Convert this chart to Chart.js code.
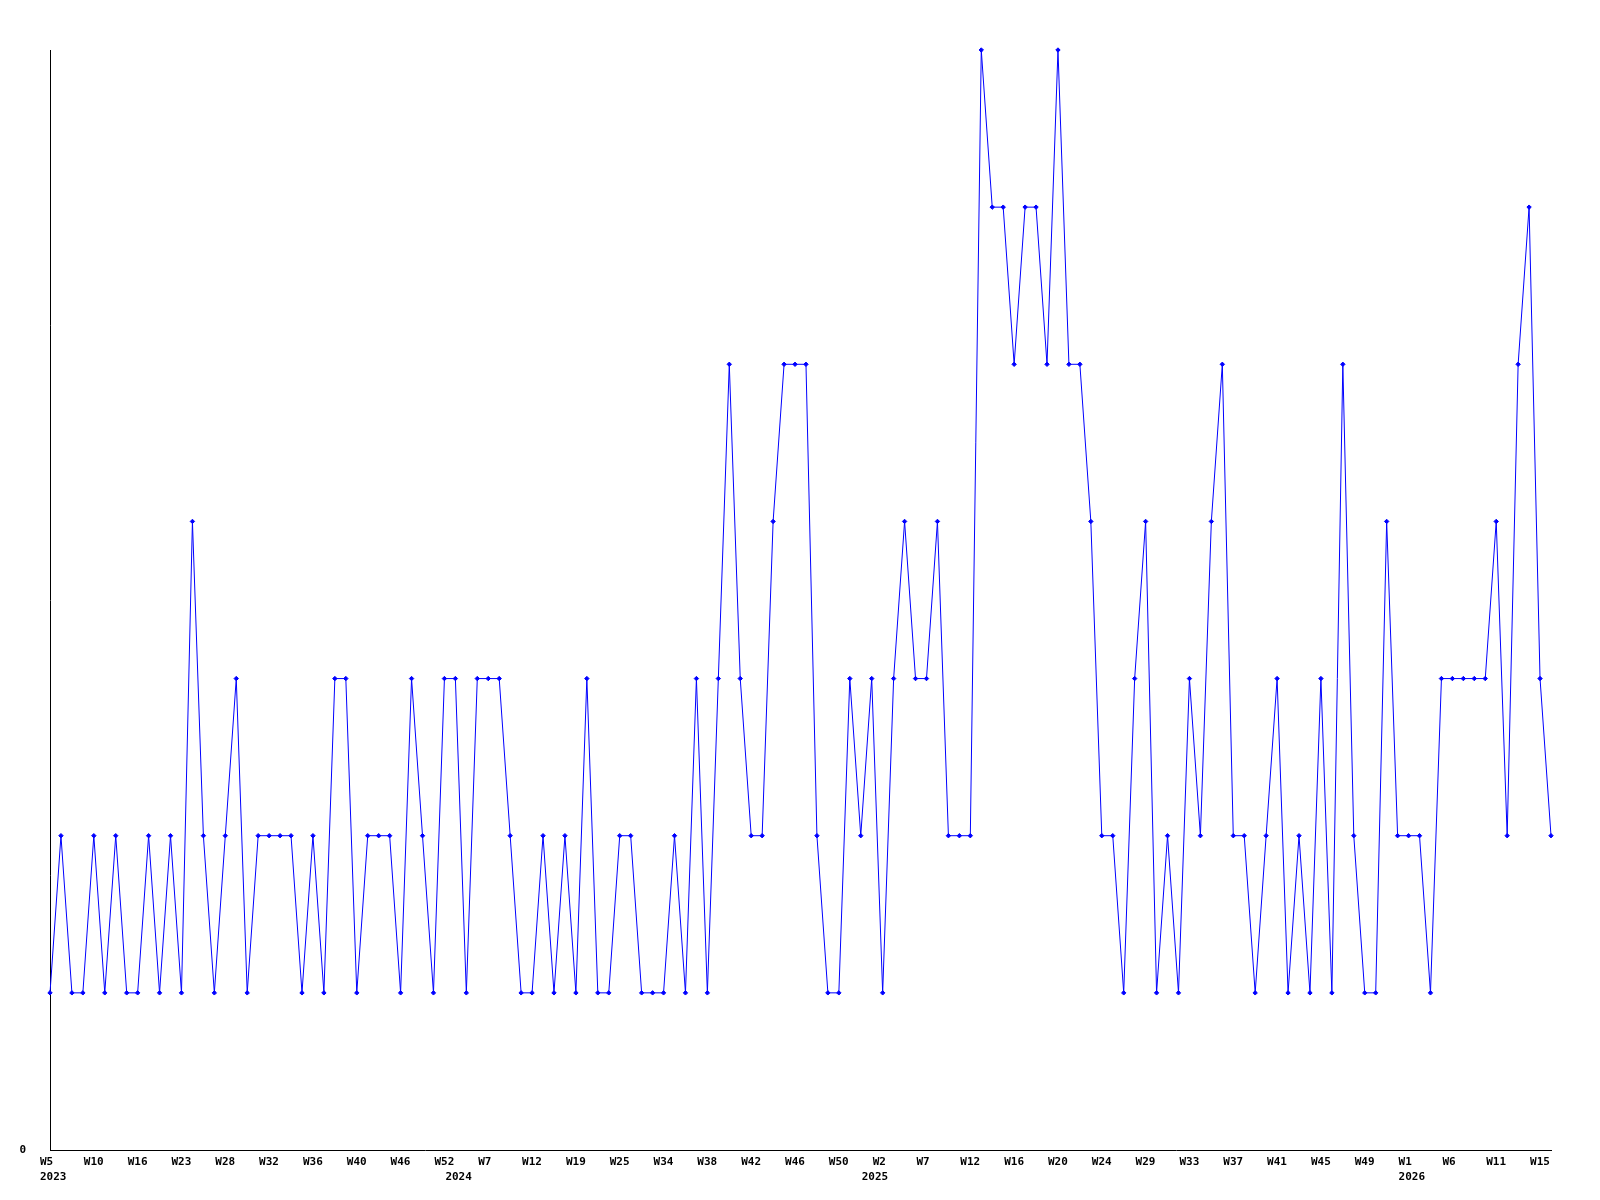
<!DOCTYPE html>
<html>
<head>
<meta charset="utf-8">
<title>Weekly count</title>
<script src="https://cdn.jsdelivr.net/npm/chart.js@4.4.1/dist/chart.umd.min.js"></script>
<style>
  body { margin: 0; background: #fff; }
</style>
</head>
<body>
<canvas id="weeklyChart" width="1600" height="1200"></canvas>
<script>
// weeks that have a data point, per year
const weeks2023 = ['W5','W6','W8','W9','W10','W11','W13','W14','W16','W18','W20','W21','W23','W24','W25','W27',
  'W28','W29','W30','W31','W32','W33','W34','W35','W36','W37','W38','W39','W40','W41','W43','W44',
  'W46','W48','W49','W51','W52'];
const weeks2024 = ['W1','W3','W5','W7','W8','W9','W11','W12','W14','W16','W17','W19','W20','W22','W23','W25',
  'W27','W30','W32','W34','W35','W36','W37','W38','W39','W40','W41','W42','W43','W44','W45','W46',
  'W47','W48','W49','W50','W51','W52'];
const weeks2025 = ['W1','W2','W3','W5','W6','W7','W8','W10','W11','W12','W13','W14','W15','W16','W17','W18',
  'W19','W20','W21','W22','W23','W24','W25','W27','W28','W29','W30','W31','W32','W33','W34','W35',
  'W36','W37','W38','W39','W40','W41','W42','W43','W44','W45','W46','W47','W48','W49','W50','W51','W52'];
const weeks2026 = ['W1','W3','W4','W5','W6','W8','W9','W10','W11','W12','W13','W14','W15','W16'];

// one value per week above
const counts = [
  1, 2, 1, 1, 2, 1, 2, 1, 1, 2, 1, 2, 1, 4, 2, 1, 2, 3, 1, 2,
  2, 2, 2, 1, 2, 1, 3, 3, 1, 2, 2, 2, 1, 3, 2, 1, 3, 3, 1, 3,
  3, 3, 2, 1, 1, 2, 1, 2, 1, 3, 1, 1, 2, 2, 1, 1, 1, 2, 1, 3,
  1, 3, 5, 3, 2, 2, 4, 5, 5, 5, 2, 1, 1, 3, 2, 3, 1, 3, 4, 3,
  3, 4, 2, 2, 2, 7, 6, 6, 5, 6, 6, 5, 7, 5, 5, 4, 2, 2, 1, 3,
  4, 1, 2, 1, 3, 2, 4, 5, 2, 2, 1, 2, 3, 1, 2, 1, 3, 1, 5, 2,
  1, 1, 4, 2, 2, 2, 1, 3, 3, 3, 3, 3, 4, 2, 5, 6, 3, 2
];

const yMax = 7;
const labelEvery = 4;

const categories = [];
const weekOf = [];
const yearOf = [];
[[2023, weeks2023], [2024, weeks2024], [2025, weeks2025], [2026, weeks2026]].forEach(([yr, list]) => {
  list.forEach(w => {
    categories.push(yr + ' ' + w);
    weekOf.push(w);
    yearOf.push(String(yr));
  });
});

const tickFont = { family: '"DejaVu Sans Mono", "Liberation Mono", monospace', size: 11, weight: 'bold', lineHeight: 1.4 };

new Chart(document.getElementById('weeklyChart').getContext('2d'), {
  type: 'line',
  data: {
    labels: categories,
    datasets: [{
      data: counts,
      borderColor: '#0000ff',
      borderWidth: 1,
      tension: 0,
      fill: false,
      clip: false,
      pointStyle: 'rectRot',
      pointRadius: 2.2,
      pointBorderWidth: 1,
      pointBackgroundColor: '#0000ff',
      pointBorderColor: '#0000ff'
    }]
  },
  options: {
    responsive: false,
    animation: false,
    devicePixelRatio: 1,
    layout: { padding: { left: 20, right: 49, top: 50, bottom: 0 } },
    plugins: { legend: { display: false }, tooltip: { enabled: false } },
    scales: {
      x: {
        type: 'category',
        offset: false,
        grid: { display: false, drawTicks: false },
        border: { display: true, color: '#000', width: 1 },
        afterFit: (scale) => { scale.height = 50; },
        ticks: {
          autoSkip: false,
          maxRotation: 0,
          minRotation: 0,
          align: 'start',
          labelOffset: -10,
          padding: 4,
          color: '#000',
          font: tickFont,
          callback: function (value, index) {
            const week = index % labelEvery === 0 ? weekOf[index] : '';
            const newYear = index === 0 || yearOf[index] !== yearOf[index - 1];
            if (newYear) return [week, yearOf[index]];
            return week;
          }
        }
      },
      y: {
        min: 0,
        max: yMax,
        grid: { display: false, drawTicks: false },
        border: { display: true, color: '#000', width: 1 },
        afterFit: (scale) => { scale.width = 30; },
        ticks: {
          stepSize: 1,
          padding: 24,
          color: '#000',
          font: tickFont,
          callback: (v) => v === 0 ? '0' : ''
        }
      }
    }
  }
});
</script>
</body>
</html>
